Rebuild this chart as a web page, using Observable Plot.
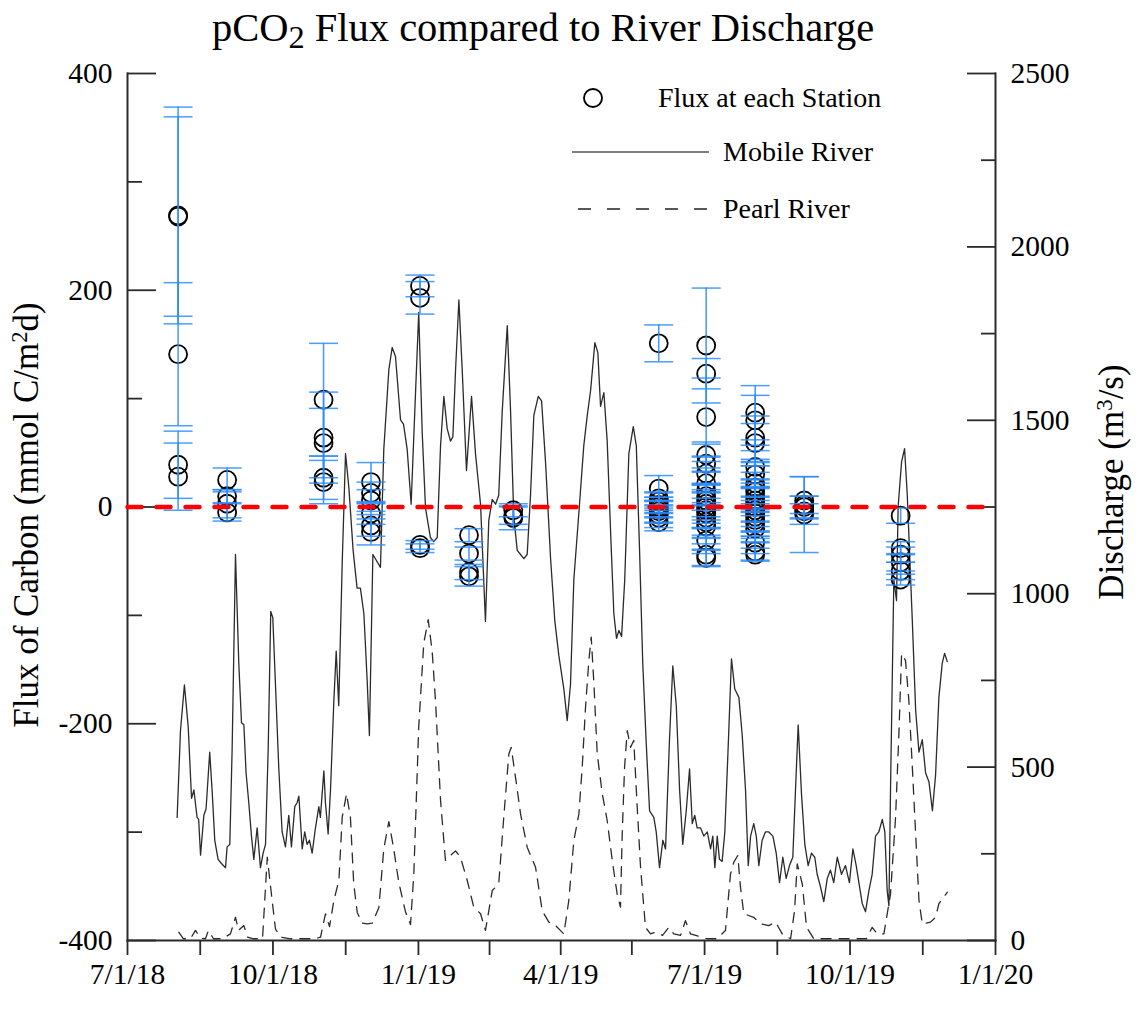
<!DOCTYPE html>
<html>
<head>
<meta charset="utf-8">
<script src="https://cdn.jsdelivr.net/npm/d3@7"></script>
<script src="https://cdn.jsdelivr.net/npm/@observablehq/plot@0.6"></script>
<style>
  html, body { margin:0; padding:0; background:#fff; }
  #wrap { position:relative; width:1142px; height:1024px; font-family:"Liberation Serif","Times New Roman",serif; color:#000; }
  #chart { position:absolute; left:0; top:0; }
  .title { position:absolute; left:0; top:8px; width:1086px; text-align:center; font-size:40.5px; line-height:40px; white-space:nowrap; }
  .title .sub { font-size:0.8em; position:relative; top:0.22em; }
  .ylab { position:absolute; font-size:35px; line-height:35px; white-space:nowrap; transform:translate(-50%,-50%) rotate(-90deg); }
  .ylab .sup { font-size:0.65em; position:relative; top:-0.5em; }
  #legend { position:absolute; left:0; top:0; pointer-events:none; font-family:"Liberation Serif","Times New Roman",serif; }
</style>
</head>
<body>
<div id="wrap">
  <div id="chart"></div>
  <div class="title">pCO<span class="sub">2</span> Flux compared to River Discharge</div>
  <div class="ylab" style="left:28px; top:515px;">Flux of Carbon (mmol C/m<span class="sup">2</span>d)</div>
  <div class="ylab" style="left:1113px; top:482px;">Discharge (m<span class="sup">3</span>/s)</div>
  <svg id="legend" width="1142" height="1024">
    <circle cx="593" cy="98" r="9" fill="none" stroke="#000" stroke-width="1.9"></circle>
    <text x="658" y="107" font-size="28">Flux at each Station</text>
    <line x1="572" y1="152" x2="709" y2="152" stroke="#555" stroke-width="1.6"></line>
    <text x="723" y="161" font-size="28">Mobile River</text>
    <line x1="578" y1="209" x2="707" y2="209" stroke="#222" stroke-width="1.6" stroke-dasharray="13,16"></line>
    <text x="723" y="218" font-size="28">Pearl River</text>
  </svg>
</div>
<script>
// ---------------- data ----------------
const START = "2018-07-01";
const END = "2020-01-01";

const fluxGroupDates = ["2018-08-02","2018-09-02","2018-11-02","2018-12-02","2019-01-02","2019-02-02","2019-03-02","2019-06-02","2019-07-02","2019-08-02","2019-09-02","2019-11-02"];
const fluxValues = [
  [269,268,141,39,28],
  [25,10,3,-5],
  [99,64,59,27,23],
  [23,13,6,-6,-17,-23],
  [204,193,-35,-38],
  [-26,-43,-60,-64],
  [-3,-8,-10],
  [151,17,8,5,2,0,-2,-4,-7,-10,-14],
  [149,123,83,48,40,31,22,15,10,6,3,0,-3,-6,-10,-14,-18,-31,-44,-47],
  [87,80,64,59,37,30,22,18,14,10,6,3,0,-3,-6,-9,-12,-15,-20,-33,-41,-44],
  [6,2,0,-4,-7],
  [-8,-38,-44,-51,-59,-67]
];
const fluxErrors = [
  [100,92,66,31,31],
  [11,6,13,8],
  [52,42,32,20,20],
  [18,10,10,10,10,12],
  [10,15,4,4],
  [6,6,7,9],
  [6,8,11],
  [17,12,6,8,7,9,8,10,8,9,8],
  [53,14,36,12,18,15,20,18,22,15,18,20,16,20,18,15,22,12,10,8],
  [25,23,20,18,15,12,16,20,18,15,20,16,18,20,16,18,15,14,12,10,8,6],
  [22,8,10,7,35],
  [7,6,7,8,8,5]
];

// river discharge: days since 2018-07-01, m3/s
const mobileDays = [31.4,33.5,36,38.4,40.5,42,44,45,46.2,48.3,49.7,52,53.5,55.2,57.3,59.4,62,63,64.7,66.2,68.3,70.4,72.1,73.6,75,76.7,78.4,79.9,82,84.1,85.8,87.3,89,90.6,91.9,93.6,95.7,97.8,99.9,102,103.7,105.8,107.3,108.4,110.5,112.1,113.6,115.1,116.8,118.9,121,122,124.2,125.2,126.9,128.4,130.5,132,133.6,135.8,137.9,140,142.7,145.2,147.3,149.5,151.6,153,
  155.2,160,162.1,165.3,167.4,169.5,172.7,174.6,176.9,179.4,181.7,184.2,186.4,188.5,191.6,193.7,195.9,198,200.1,202.2,204.3,205.8,207.5,209.6,211.7,214.4,217.6,220.1,223.3,226.4,228.5,230.7,232.8,234.8,237,240.2,242.3,244.3,246.5,248.6,250.7,252.8,254.9,257,259.8,261.9,264.4,267.6,270.3,272.8,276,278.1,
  280.2,282.3,285.5,288.6,290.8,292.9,295.6,297.5,299.2,301.3,303.4,305.5,307.6,309.3,310.8,312.5,314.5,317.1,319.9,321.8,323.8,325.9,328.1,330.2,332.9,334.4,336.5,338.6,340.3,342.8,344.9,347.1,349.2,351.2,353.4,355.5,357.2,358.8,360.3,362.4,364.5,366.7,368.8,370.2,371.5,373,374.4,376.1,377.8,379.9,382,384.1,386.7,388.8,390.9,392.6,394.1,396.1,397.7,399.3,401.4,403.5,
  405.6,408.2,410.3,412.4,414.5,416.6,418.7,420.8,422.5,424.2,426.3,428.4,430.5,432.6,434.7,436.2,438.3,440.4,442.6,444.6,446.7,448.9,451.6,454.1,456.6,458.8,460.9,462.6,464.7,466.8,468.9,471,473.1,475.2,477.4,479,480.5,481.6,482.6,484.7,486.4,487.4,489.6,491.5,493.2,496.4,498.5,500.6,502.7,504.8,506.9,509.1,511.1,513.2,515.3,516.8,518.5];
const mobileQ = [355,604,737,616,410,434,355,349,246,361,380,543,434,289,234,222,210,270,277,555,1113,798,628,622,483,398,301,234,325,210,252,277,555,949,931,737,495,313,270,361,270,386,398,416,264,313,277,289,252,325,386,355,489,398,307,434,689,834,677,1089,1404,1307,1125,1016,1016,943,749,591,
  1113,1076,1416,1646,1710,1684,1501,1488,1416,1258,1525,1811,1465,1246,1162,1150,1162,1427,1569,1476,1440,1453,1646,1847,1646,1355,1569,1404,1258,920,1211,1272,1258,1284,1525,1773,1525,1223,1125,1113,1101,1113,1284,1514,1569,1556,1380,1101,920,822,725,634,
  738,1041,1234,1427,1514,1586,1724,1695,1540,1580,1440,1185,943,871,894,877,1041,1404,1482,1427,1137,799,568,374,355,313,210,289,264,579,792,677,434,277,374,495,337,361,325,325,301,313,264,301,210,301,234,228,313,555,812,725,701,592,434,216,301,337,301,216,289,313,
  313,301,252,167,240,179,216,240,434,622,422,277,216,252,240,191,155,112,179,203,167,240,191,216,167,264,216,167,107,83,143,191,301,313,349,313,143,100,434,1041,980,1250,1380,1418,1284,920,664,543,579,483,458,374,477,701,799,828,804];

const pearlDays = [32.4,35.4,39.8,43,46.2,49.3,51.2,54.4,60.1,65.1,68.3,70.2,73.6,75.9,79.7,85.4,88.4,91.5,93.6,96.8,103.1,109.4,118.9,122.1,125.2,127.8,130.5,133.7,135.8,138.5,141,143.1,145.3,148.4,151.6,154.8,159,162.1,165.3,168.4,171.6,175.8,179,181.1,184.2,187.4,190.2,192.7,194.8,198,201.1,205.4,207.5,210.6,214.9,219,223.3,226.4,230.7,234.8,238,241.2,242.7,245.4,248.6,252.8,258.1,262.3,266.5,269.6,276,279.1,282.3,285.5,287.6,289.7,291.8,293.3,295,297.1,300.3,303.4,306.6,309.7,311.8,312.9,314.4,316.1,318.2,320.2,322.4,324.5,327.6,330.8,334,338.4,342.4,345.5,349.8,352.9,356.1,366.7,373,378.2,381.4,383.5,386,387.7,389.8,396.1,400.4,405.6,409.9,414.1,419.4,421.9,423.6,426.8,429.5,434.1,447.8,461.5,467.4,471,474.2,478.4,482.6,485.8,487.9,489.6,492.1,494.2,496.4,498.5,500.6,502.7,507.9,511.1,513.2,518.5];
const pearlQ = [24,5,5,29,7,5,29,5,5,19,67,29,43,10,5,5,240,115,33,10,5,5,5,10,77,40,115,173,355,423,355,163,81,50,48,50,95,264,343,264,167,83,46,192,616,858,925,834,692,404,231,250,258,240,173,96,77,29,144,163,356,538,557,471,365,269,211,86,53,48,19,115,288,365,500,673,807,875,740,538,423,346,231,134,96,307,500,605,557,577,384,211,38,19,24,15,38,19,15,57,19,5,5,29,192,226,245,154,77,67,48,43,53,19,5,86,221,163,38,5,5,5,5,38,19,19,134,356,596,827,807,692,500,307,115,48,53,67,106,139];

// axes
const xTickDates = ["2018-07-01","2018-08-16","2018-10-01","2018-11-16","2019-01-01","2019-02-15","2019-04-01","2019-05-16","2019-07-01","2019-08-16","2019-10-01","2019-11-16","2020-01-01"];
const xTickLabels = ["7/1/18","","10/1/18","","1/1/19","","4/1/19","","7/1/19","","10/1/19","","1/1/20"];
const fluxDomain = [-400, 400];
const leftMajor = [-400,-200,0,200,400];
const leftMinor = [-300,-100,100,300];
const dischargeDomain = [0, 2500];
const rightMajorQ = [0,500,1000,1500,2000,2500];
const rightMinorQ = [250,750,1250,1750,2250];
const zeroFlux = 0;

// ---------------- build ----------------
const t0 = Date.UTC(2018, 6, 1);
const dayToDate = d => new Date(t0 + d * 864e5);
// discharge mapped onto the flux axis (secondary axis)
const qToFlux = q => fluxDomain[0] + (q - dischargeDomain[0]) * (fluxDomain[1] - fluxDomain[0]) / (dischargeDomain[1] - dischargeDomain[0]);
const fluxToQ = f => dischargeDomain[0] + (f - fluxDomain[0]) * (dischargeDomain[1] - dischargeDomain[0]) / (fluxDomain[1] - fluxDomain[0]);

const mobile = mobileDays.map((d, i) => ({date: dayToDate(d), q: mobileQ[i]}));
const pearl = pearlDays.map((d, i) => ({date: dayToDate(d), q: pearlQ[i]}));
const flux = fluxGroupDates.flatMap((ds, g) => fluxValues[g].map((v, i) => ({
  date: new Date(ds), value: v, lo: v - fluxErrors[g][i], hi: v + fluxErrors[g][i]
})));
// zero reference line across the full date domain, drawn left to right
const zeroLine = [START, END].map(s => ({date: new Date(s), value: zeroFlux}));

const xTicks = xTickDates.map(s => new Date(s));
const xLabelMap = new Map(xTicks.map((d, i) => [+d, xTickLabels[i]]));

const capSymbol = {
  draw(context, size) {
    const w = Math.sqrt(size / Math.PI);
    context.moveTo(-w, 0);
    context.lineTo(w, 0);
  }
};

const blue = "#2b8cff";
const axisColor = "#2a2a2a";
const fmtSigned = d => d < 0 ? "-" + Math.abs(d) : String(d);

const chart = Plot.plot({
  width: 1142,
  height: 1024,
  marginLeft: 127,
  marginRight: 147,
  marginTop: 73,
  marginBottom: 84,
  style: {fontFamily: '"Liberation Serif","Times New Roman",serif', fontSize: "29.5px", background: "transparent", overflow: "visible", color: "#000"},
  x: {type: "utc", domain: [new Date(START), new Date(END)]},
  y: {domain: fluxDomain},
  marks: [
    Plot.line(mobile, {x: "date", y: d => qToFlux(d.q), stroke: "#2b2b2b", strokeWidth: 1.3}),
    Plot.line(pearl, {x: "date", y: d => qToFlux(d.q), stroke: "#2b2b2b", strokeWidth: 1.3, strokeDasharray: "10,8"}),
    Plot.dot(flux, {x: "date", y: "value", r: 9, stroke: "#000", strokeWidth: 1.8, fill: "none"}),
    Plot.ruleX(flux, {x: "date", y1: "lo", y2: "hi", stroke: blue, strokeWidth: 1.5, strokeOpacity: 0.9}),
    Plot.dot(flux, {x: "date", y: "hi", symbol: capSymbol, r: 14.5, stroke: blue, strokeWidth: 1.5, strokeOpacity: 0.85, fill: "none"}),
    Plot.dot(flux, {x: "date", y: "lo", symbol: capSymbol, r: 14.5, stroke: blue, strokeWidth: 1.5, strokeOpacity: 0.85, fill: "none"}),
    Plot.frame({anchor: "left", stroke: axisColor, strokeWidth: 2}),
    Plot.frame({anchor: "right", stroke: axisColor, strokeWidth: 2}),
    Plot.frame({anchor: "bottom", stroke: axisColor, strokeWidth: 2}),
    Plot.axisX({ticks: xTicks, tickSize: 15, tickPadding: 8, tickFormat: d => xLabelMap.get(+d) ?? "", label: null, color: axisColor, fill: "#000", strokeWidth: 1.8}),
    Plot.axisY({anchor: "left", ticks: leftMajor, tickSize: -29, tickPadding: 44, tickFormat: fmtSigned, label: null, stroke: axisColor, fill: "#000", strokeWidth: 1.8}),
    Plot.axisY({anchor: "left", ticks: leftMinor, tickSize: -15, tickFormat: () => "", label: null, stroke: axisColor, strokeWidth: 1.8}),
    Plot.axisY({anchor: "right", ticks: rightMajorQ.map(qToFlux), tickSize: -29, tickPadding: 44, tickFormat: f => String(Math.round(fluxToQ(f))), label: null, stroke: axisColor, fill: "#000", strokeWidth: 1.8}),
    Plot.axisY({anchor: "right", ticks: rightMinorQ.map(qToFlux), tickSize: -15, tickFormat: () => "", label: null, stroke: axisColor, strokeWidth: 1.8}),
    Plot.line(zeroLine, {x: "date", y: "value", stroke: "#ff0000", strokeWidth: 4.5, strokeDasharray: "14,15"})
  ]
});
document.getElementById("chart").appendChild(chart);
</script>
</body>
</html>
